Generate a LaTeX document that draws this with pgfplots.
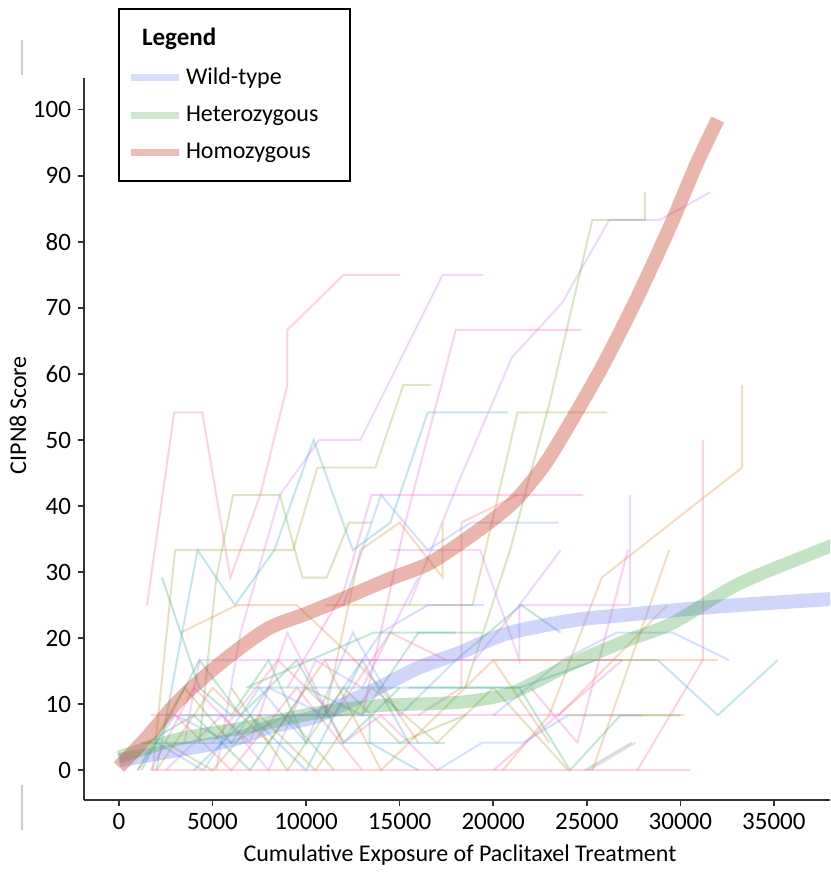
\documentclass[border=0pt]{standalone}
\usepackage{pgfplots}
\pgfplotsset{compat=1.18}
\usepackage{fontspec}
\setmainfont{Carlito}

\definecolor{cpink}{RGB}{247,113,137}
\definecolor{corange}{RGB}{220,137,50}
\definecolor{colive}{RGB}{174,157,49}
\definecolor{cygreen}{RGB}{119,171,49}
\definecolor{cgreen}{RGB}{51,176,122}
\definecolor{ccyan}{RGB}{56,169,197}
\definecolor{cblue}{RGB}{110,155,244}
\definecolor{clav}{RGB}{204,122,244}
\definecolor{cmag}{RGB}{245,101,204}
\definecolor{wtblue}{RGB}{100,120,240}
\definecolor{hetgreen}{RGB}{60,160,60}
\definecolor{homred}{RGB}{200,70,50}

\pgfplotsset{
  pt/.style={line width=1pt, draw opacity=0.3, forget plot},
  band/.style={smooth, line width=7pt, forget plot},
}

\begin{document}
\begin{tikzpicture}
\begin{axis}[
  name=ax,
  width=373pt, height=361pt, scale only axis,
  xmin=-1870, xmax=38000, ymin=-4.5, ymax=104.8,
  axis x line*=bottom, axis y line*=left,
  axis line style={line width=1.1pt, black!80},
  xtick={0,5000,...,35000}, ytick={0,10,...,100},
  tick style={black!80, line width=0.8pt}, tick align=outside,
  major tick length=3pt,
  scaled ticks=false,
  /pgf/number format/1000 sep={},
  /pgf/number format/assume math mode=true,
  tick label style={font=\fontsize{12.5}{14}\selectfont},
  label style={font=\fontsize{12}{14}\selectfont},
  xlabel={Cumulative Exposure of Paclitaxel Treatment},
  ylabel={CIPN8 Score},
  xlabel style={at={(rel axis cs:0.504,-0.0762)}, anchor=center},
  ylabel style={at={(rel axis cs:-0.0885,0.533)}, anchor=center},
  no markers,
  legend image code/.code={\draw[#1] (0pt,0pt) -- (24pt,0pt);},
  legend cell align=left,
  legend style={at={(rel axis cs:0.0456,1.097)}, anchor=north west,
    draw=black, line width=1pt, font=\fontsize{12}{14}\selectfont,
    row sep=5.5pt, inner xsep=4pt, inner ysep=7.5pt},
]

% individual patients
\addplot[pt, cpink] coordinates {(1500,25) (2950,54.17) (4450,54.17) (5950,29.17) (7550,41.67) (9000,58.33) (9000,66.67) (12000,75) (15000,75)};
\addplot[pt, clav] coordinates {(5200,0) (6500,20.83) (8600,41.67) (10700,50) (12900,50) (17300,75) (19450,75)};
\addplot[pt, ccyan] coordinates {(2000,0) (4200,33.33) (6200,25) (8300,33.33) (10400,50) (12500,33.33) (14500,37.5) (16500,54.17) (20800,54.17)};
\addplot[pt, colive] coordinates {(1800,0) (3000,33.33) (9300,33.33) (10600,45.83) (13700,45.83) (15200,58.33) (16700,58.33)};
\addplot[pt, cygreen] coordinates {(4300,4.17) (5200,29.17) (6100,41.67) (8600,41.67) (9800,29.17) (11100,29.17) (12300,37.5) (13500,37.5)};
\addplot[pt, cmag] coordinates {(13000,8.33) (15300,37.5) (18000,66.67) (24700,66.67)};
\addplot[pt, clav] coordinates {(15500,25) (18200,44) (21000,62.5) (23700,70.83) (26200,83.33) (28900,83.33) (31600,87.5)};
\addplot[pt, cygreen] coordinates {(18500,12.5) (20900,33.33) (23000,55.5) (25300,83.33) (28100,83.33) (28100,87.5)};
\addplot[pt, colive] coordinates {(11000,25) (18900,25) (21300,54.17) (26100,54.17)};
\addplot[pt, corange] coordinates {(20500,0) (23000,8.33) (25800,29.17) (33300,45.83) (33300,58.33)};
\addplot[pt, cpink] coordinates {(27700,0) (31200,16.67) (31200,50)};
\addplot[pt, ccyan] coordinates {(7000,12.5) (21400,12.5) (25500,16.67) (28800,16.67) (32000,8.33) (35200,16.67)};
\addplot[pt, cblue] coordinates {(20000,8.33) (23700,16.67) (26600,20.83) (29600,20.83) (32600,16.67)};
\addplot[pt, cmag] coordinates {(22000,12.5) (24500,4.17) (27200,33.33)};
\addplot[pt, clav] coordinates {(14500,33.33) (19300,33.33) (21400,16.67) (21400,25) (27300,25) (27300,41.67)};
\addplot[pt, cblue] coordinates {(12000,25) (14000,41.67) (16500,33.33) (18800,37.5) (23500,37.5)};
\addplot[pt, cmag] coordinates {(9000,12.5) (12000,27) (13500,41.67) (24800,41.67)};
\addplot[pt, cpink] coordinates {(16000,8.33) (18300,12.5) (18300,37.5) (21300,41.67)};
\addplot[pt, corange] coordinates {(11000,8.33) (12900,33.33) (15000,37.5) (17300,29.17) (17300,37.5)};
\addplot[pt, cgreen] coordinates {(2300,29.17) (4300,12.5) (6000,8.33) (8000,16.67) (10000,4.17)};
\addplot[pt, corange] coordinates {(3300,20.83) (6300,25) (9500,25) (12300,17.5) (14000,12.5) (16000,4.17)};
\addplot[pt, corange] coordinates {(25300,0) (29400,33.33)};
\addplot[pt, corange] coordinates {(23500,8.33) (29300,25)};
\addplot[pt, cmag] coordinates {(20000,0) (26900,16.67)};
\addplot[pt, cgreen] coordinates {(15500,12.5) (21400,12.5) (24100,0) (26800,8.33) (30000,8.33)};
\addplot[pt, cgreen] coordinates {(24900,0) (27400,4.17)};
\addplot[pt, cmag] coordinates {(25100,0) (27600,4.17)};
\addplot[pt, cblue] coordinates {(17000,0) (19400,4.17) (21600,4.17) (24000,8.33) (28000,8.33)};
\addplot[pt, clav] coordinates {(19000,16.67) (21400,25) (23600,33.33)};
\addplot[pt, cgreen] coordinates {(18000,16.67) (21500,25) (23600,20.83)};
\addplot[pt, cpink] coordinates {(1700,0) (30500,0)};
\addplot[pt, cmag] coordinates {(1700,8.33) (24000,8.33)};
\addplot[pt, corange] coordinates {(24000,8.33) (30200,8.33)};
\addplot[pt, clav] coordinates {(3500,4.17) (4300,16.67) (19000,16.67)};
\addplot[pt, cmag] coordinates {(11000,16.67) (26900,16.67)};
\addplot[pt, corange] coordinates {(20000,16.67) (32000,16.67)};
\addplot[pt, ccyan] coordinates {(1200,4.17) (17400,4.17)};
\addplot[pt, ccyan] coordinates {(3300,8.33) (13400,8.33) (13400,4.17) (16000,0)};
\addplot[pt, cgreen] coordinates {(6800,12.5) (13600,20.83) (19400,20.83)};
\addplot[pt, cgreen] coordinates {(1200,0) (4300,16.67) (6500,8.33) (9500,16.67) (12000,4.17) (15000,12.5)};
\addplot[pt, cgreen] coordinates {(1500,4.17) (4000,8.33) (7000,0) (10000,12.5) (13000,8.33) (16000,20.83) (18000,20.83)};
\addplot[pt, corange] coordinates {(2000,0) (5000,12.5) (8000,4.17) (11000,16.67) (14000,0) (17000,8.33) (20000,16.67) (23000,4.17)};
\addplot[pt, cmag] coordinates {(1700,0) (4000,12.5) (7000,4.17) (9000,20.83) (12000,4.17) (14000,8.33) (17000,0)};
\addplot[pt, cblue] coordinates {(1000,0) (3000,8.33) (6000,4.17) (8000,12.5) (11000,8.33) (14000,20.83) (16500,25) (19500,25)};
\addplot[pt, clav] coordinates {(2500,0) (5500,8.33) (8000,0) (10500,16.67) (13000,12.5) (16000,29.17)};
\addplot[pt, colive] coordinates {(2500,4.17) (5000,0) (7500,8.33) (10500,0) (13500,12.5) (17000,4.17) (20000,12.5) (24000,0)};
\addplot[pt, cpink] coordinates {(3000,8.33) (6000,0) (9500,12.5) (13000,0)};
\addplot[pt, cygreen] coordinates {(1000,0) (3500,12.5) (6000,4.17) (9000,8.33) (11500,0)};
\addplot[pt, ccyan] coordinates {(4000,0) (7000,8.33) (10000,0) (13000,16.67) (15500,4.17)};
\addplot[pt, cblue] coordinates {(2000,4.17) (4500,0) (7500,12.5) (10000,4.17) (12500,20.83) (15000,8.33) (18000,16.67)};
\addplot[pt, cpink] coordinates {(5000,4.17) (8500,16.67) (11500,8.33) (14500,20.83) (17500,16.67)};
\addplot[pt, cygreen] coordinates {(6000,12.5) (9000,0) (12000,12.5) (15000,4.17) (18500,8.33)};

% group trends
\addplot[band, wtblue, opacity=0.3] coordinates {(0,1.5) (2000,2.5) (5930,4.5) (8000,6.5) (10370,8) (12000,10) (13950,12.6) (16000,15.5) (18220,17.8) (20730,20.7) (24260,22.7) (27000,23.5) (29600,24.2) (33000,25) (38500,26)};
\addplot[band, hetgreen, opacity=0.3, line width=6.5pt] coordinates {(0,2) (3260,4.8) (6830,6.5) (10370,8.6) (13950,9.8) (18220,10.3) (20730,11.5) (22000,13) (24260,16.2) (27000,19.5) (29600,22.3) (33180,28.3) (37900,33.8) (38500,34.5)};
\addplot[band, homred, opacity=0.4] coordinates {(0,0.5) (1500,5) (3000,10) (4500,14) (6000,17.5) (8000,21.5) (10000,23.7) (12000,26) (14500,29) (16500,31.2) (18200,34.3) (20000,38) (21300,41.2) (22800,46.5) (24300,53.5) (25900,61.5) (27600,71) (29400,82) (30900,92) (32000,98.5)};

% legend
\addlegendimage{empty legend}
\addlegendentry{\hspace*{-22pt}\fontsize{12.5}{14}\selectfont\textbf{Legend}}
\addlegendimage{line width=3.5pt, wtblue, opacity=0.25}
\addlegendentry{Wild-type}
\addlegendimage{line width=3.5pt, hetgreen, opacity=0.25}
\addlegendentry{Heterozygous\hspace*{10pt}}
\addlegendimage{line width=3.5pt, homred, opacity=0.35}
\addlegendentry{Homozygous}

\coordinate (s1a) at (rel axis cs:-0.0831,1.0526);
\coordinate (s1b) at (rel axis cs:-0.0831,1.004);
\coordinate (s2a) at (rel axis cs:-0.0831,0.0208);
\coordinate (s2b) at (rel axis cs:-0.0831,-0.0416);
\coordinate (bbsw) at (rel axis cs:-0.1126,-0.1011);
\coordinate (bbne) at (rel axis cs:1.0013,1.108);
\end{axis}
\draw[black!20, line width=0.6pt] (s1a) -- (s1b);
\draw[black!20, line width=0.6pt] (s2a) -- (s2b);
\pgfresetboundingbox
\path[use as bounding box] (bbsw) rectangle (bbne);
\end{tikzpicture}
\end{document}
